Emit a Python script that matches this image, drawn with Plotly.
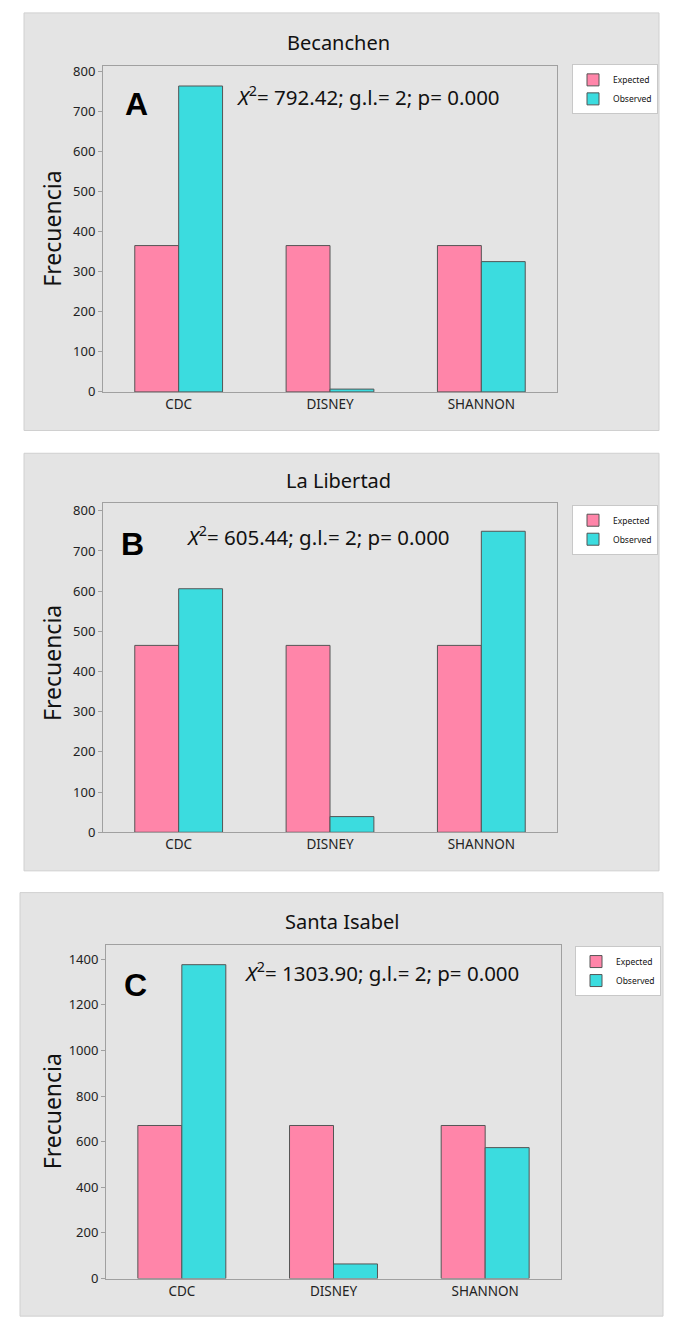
import plotly.graph_objects as go

categories = ["CDC", "DISNEY", "SHANNON"]
sites = ["Becanchen", "La Libertad", "Santa Isabel"]
letters = ["A", "B", "C"]
stats = ["792.42", "605.44", "1303.90"]
expected_A = [365, 365, 365]
observed_A = [763, 7, 325]
expected_B = [465, 465, 465]
observed_B = [606, 39, 749]
expected_C = [671, 671, 671]
observed_C = [1376, 64, 574]

W, H = 682, 1339
FONT = "Noto Sans"
PINK = "#FF85A9"
CYAN = "#3BDCDF"
GRAY = "#E4E4E4"

def px(x):
    return x / W

def py(y):
    return 1 - y / H

panels = [
    dict(exp=expected_A, obs=observed_A, box=(24, 8, 659, 430), dom=(103, 62, 557, 391),
         yr=812, dt=100, title=(338, 38), letter=(136, 100), stat=(368, 92), ytitle=(52, 226),
         leg=(572, 60)),
    dict(exp=expected_B, obs=observed_B, box=(24, 453, 659, 875), dom=(103, 503, 557, 836),
         yr=820, dt=100, title=(338, 481), letter=(132, 545), stat=(318, 537), ytitle=(52, 665),
         leg=(572, 505)),
    dict(exp=expected_C, obs=observed_C, box=(20, 897, 663, 1325), dom=(106, 950, 561, 1287),
         yr=1462, dt=200, title=(342, 926), letter=(135, 990), stat=(382, 977), ytitle=(52, 1118),
         leg=(575, 951)),
]

fig = go.Figure()
shapes, annotations = [], []
layout = {}
for i, p in enumerate(panels):
    sfx = "" if i == 0 else str(i + 1)
    xa, ya = "x" + sfx, "y" + sfx
    lg = "legend" + sfx
    fig.add_trace(go.Bar(x=categories, y=p["exp"], name="Expected", xaxis=xa, yaxis=ya,
                         marker=dict(color=PINK, line=dict(color="#555555", width=1)),
                         legend=lg))
    fig.add_trace(go.Bar(x=categories, y=p["obs"], name="Observed", xaxis=xa, yaxis=ya,
                         marker=dict(color=CYAN, line=dict(color="#555555", width=1)),
                         legend=lg))
    x0, y0, x1, y1 = p["dom"]
    layout["xaxis" + sfx] = dict(domain=[px(x0), px(x1)], anchor=ya, range=[-0.5, 2.5],
                                 showline=True, mirror=True, linecolor="#A0A0A0", linewidth=1,
                                 ticks="", tickfont=dict(family=FONT, size=13.5, color="#222"),
                                 showgrid=False, fixedrange=True)
    layout["yaxis" + sfx] = dict(domain=[py(y1), py(y0)], anchor=xa, range=[0, p["yr"]],
                                 dtick=p["dt"], showline=True, mirror=True, linecolor="#A0A0A0",
                                 linewidth=1, ticks="outside", ticklen=4, tickcolor="#A0A0A0",
                                 tickfont=dict(family=FONT, size=13, color="#222"),
                                 showgrid=False, zeroline=False)
    bx0, by0, bx1, by1 = p["box"]
    shapes.append(dict(type="rect", xref="paper", yref="paper", x0=px(bx0), x1=px(bx1),
                       y0=py(by1), y1=py(by0), fillcolor=GRAY, line=dict(color="#D0D0D0", width=1),
                       layer="below"))
    tx, ty = p["title"]
    annotations.append(dict(text=sites[i], x=px(tx), y=py(ty), xref="paper", yref="paper",
                            xanchor="center", yanchor="middle", showarrow=False,
                            font=dict(family=FONT, size=20, color="#111")))
    lx, ly = p["letter"]
    annotations.append(dict(text="<b>" + letters[i] + "</b>", x=px(lx), y=py(ly), xref="paper",
                            yref="paper", xanchor="center", yanchor="middle", showarrow=False,
                            font=dict(family="Liberation Sans", size=32, color="#000")))
    sx, sy = p["stat"]
    annotations.append(dict(text="<i>X</i><sup>2</sup>= " + stats[i] + "; g.l.= 2; p= 0.000",
                            x=px(sx), y=py(sy), xref="paper", yref="paper", xanchor="center",
                            yanchor="middle", showarrow=False,
                            font=dict(family=FONT, size=20.5, color="#111")))
    ax, ay = p["ytitle"]
    annotations.append(dict(text="Frecuencia", x=px(ax), y=py(ay), xref="paper", yref="paper",
                            xanchor="center", yanchor="middle", showarrow=False, textangle=-90,
                            font=dict(family=FONT, size=23, color="#111")))
    gx, gy = p["leg"]
    layout[lg] = dict(x=px(gx), y=py(gy), xanchor="left", yanchor="top", bgcolor="white",
                      bordercolor="#C8C8C8", borderwidth=1,
                      font=dict(family=FONT, size=8.5, color="#111"), tracegroupgap=0,
                      itemwidth=30, traceorder="normal")

fig.update_layout(**layout)
fig.update_layout(width=W, height=H, margin=dict(l=0, r=0, t=0, b=0),
                  paper_bgcolor="white", plot_bgcolor="white", barmode="group",
                  bargap=0.42, bargroupgap=0, shapes=shapes, annotations=annotations,
                  showlegend=True)
fig.write_html("out.html", config={"displayModeBar": False},
               post_script="document.body.style.margin='0';document.body.style.padding='0';")
